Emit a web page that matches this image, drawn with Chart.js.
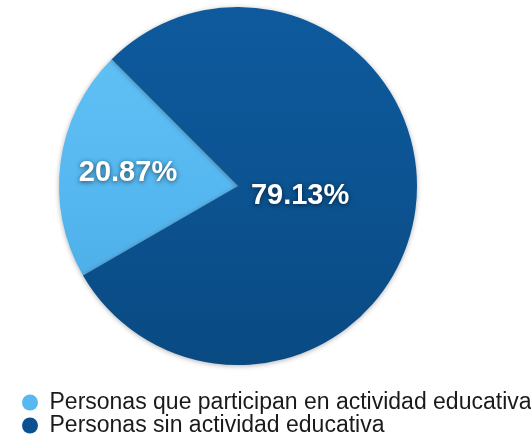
<!DOCTYPE html>
<html>
<head>
<meta charset="utf-8">
<script src="https://cdn.jsdelivr.net/npm/chart.js@4.4.1/dist/chart.umd.min.js"></script>
<style>
  html, body { margin: 0; padding: 0; background: #fff; }
  #wrap { width: 531px; height: 447px; }
</style>
</head>
<body>
<div id="wrap"><canvas id="pie"></canvas></div>
<script>
// Data
const labels = ['Personas que participan en actividad educativa', 'Personas sin actividad educativa'];
const values = [20.87, 79.13];
const flatColors = ['#58b9f1', '#0b5190'];

// top-to-bottom shading for each slice
function sliceFill(ctx) {
    const chart = ctx.chart;
    const area = chart.chartArea;
    const i = ctx.dataIndex;
    if (!area) return flatColors[i];
    const g = chart.ctx.createLinearGradient(0, area.top, 0, area.bottom);
    if (i === 0) {
        g.addColorStop(0, '#62c3f6');
        g.addColorStop(0.5, '#56b8f0');
        g.addColorStop(1, '#47a8e3');
    } else {
        g.addColorStop(0, '#0e5a9d');
        g.addColorStop(0.45, '#0c5493');
        g.addColorStop(1, '#094a82');
    }
    return g;
}

// soft shadow behind the slices
const shadowPlugin = {
    id: 'shadow',
    beforeDatasetsDraw(chart) {
        const c = chart.ctx;
        c.save();
        c.shadowColor = 'rgba(0,0,0,0.3)';
        c.shadowBlur = 5;
        c.shadowOffsetY = 1;
    },
    afterDatasetsDraw(chart) {
        chart.ctx.restore();
    }
};

// percentage labels on top of the slices
const labelPlugin = {
    id: 'sliceLabels',
    afterDraw(chart) {
        const c = chart.ctx;
        const meta = chart.getDatasetMeta(0);
        const data = chart.data.datasets[0].data;
        const total = data.reduce((a, b) => a + b, 0);
        const dist = [0.62, 0.35];
        c.save();
        c.font = 'bold 29px "Liberation Sans", Arial, sans-serif';
        c.textAlign = 'center';
        c.textBaseline = 'middle';
        c.fillStyle = '#ffffff';
        c.shadowColor = 'rgba(0,0,0,0.6)';
        c.shadowBlur = 5;
        c.shadowOffsetY = 1;
        meta.data.forEach((arc, i) => {
            const mid = (arc.startAngle + arc.endAngle) / 2;
            const r = arc.outerRadius * dist[i];
            const x = arc.x + Math.cos(mid) * r;
            const y = arc.y + Math.sin(mid) * r + 2;
            c.fillText((data[i] / total * 100).toFixed(2) + '%', x, y);
        });
        c.restore();
    }
};

new Chart(document.getElementById('pie'), {
    type: 'pie',
    data: {
        labels: labels,
        datasets: [{
            data: values,
            backgroundColor: sliceFill,
            borderWidth: 0
        }]
    },
    options: {
        responsive: true,
        maintainAspectRatio: false,
        animation: false,
        rotation: 240,
        layout: { padding: { left: 22, right: 0, top: 7, bottom: 0 } },
        plugins: {
            tooltip: { enabled: false },
            // empty title on the right only pushes the pie to the left
            title: { display: true, text: '', position: 'right', padding: 0, font: { size: 77, lineHeight: 1 } },
            legend: {
                position: 'bottom',
                align: 'start',
                title: { display: true, text: '', padding: 0, font: { size: 26, lineHeight: 1 } },
                labels: {
                    usePointStyle: true,
                    pointStyle: 'circle',
                    boxHeight: 11.3,
                    boxWidth: 16,
                    pointStyleWidth: 16,
                    padding: 0,
                    color: '#1a1a1a',
                    font: { family: '"Liberation Sans", Arial, sans-serif', size: 23, lineHeight: 22 / 23 },
                    generateLabels(chart) {
                        const items = Chart.overrides.pie.plugins.legend.labels.generateLabels(chart);
                        items.forEach((it, i) => {
                            it.fillStyle = flatColors[i];
                            it.strokeStyle = flatColors[i];
                            it.lineWidth = 0;
                        });
                        return items;
                    }
                }
            }
        }
    },
    plugins: [shadowPlugin, labelPlugin]
});
</script>
</body>
</html>
